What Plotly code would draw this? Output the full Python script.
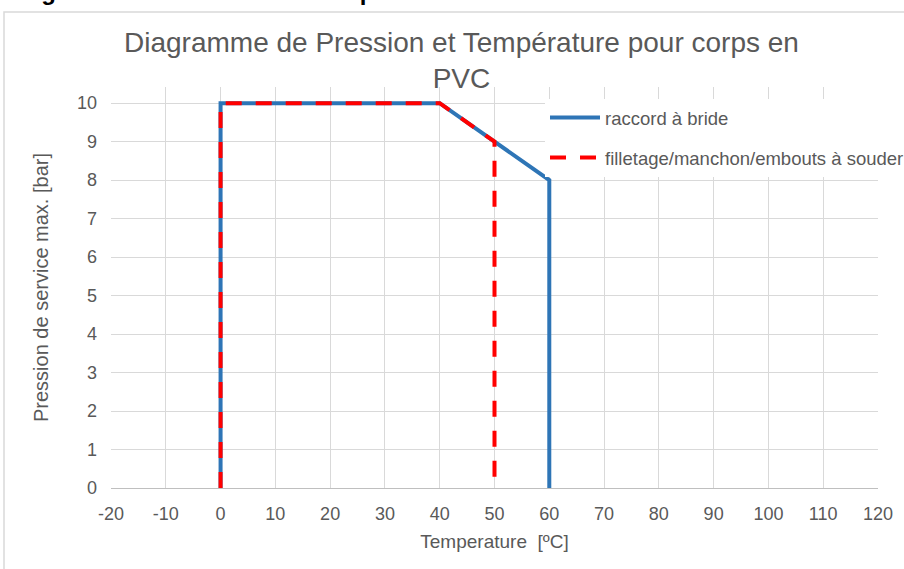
import plotly.graph_objects as go

# Data
bride_temp = [0, 0, 40, 60, 60]
bride_press = [0, 10, 10, 8, 0]
filet_temp = [0, 0, 40, 50, 50]
filet_press = [0, 10, 10, 9, 0]
x_ticks = list(range(-20, 121, 10))
x_labels = [str(v) for v in x_ticks]
y_ticks = list(range(0, 11))

W, H = 904, 569
L, R, T, B = 111, 26, 87, 81
pw, ph = W - L - R, H - T - B

def px2x(p):
    return (p - L) / pw

def px2y(p):
    return (H - B - p) / ph

FONT = "Liberation Sans, Arial, sans-serif"
GRAY = "#595959"

fig = go.Figure()
fig.add_trace(go.Scatter(x=bride_temp, y=bride_press, mode="lines",
                         name="raccord à bride", legendgroup="a",
                         line=dict(color="#2E75B6", width=4)))
fig.add_trace(go.Scatter(x=filet_temp, y=filet_press, mode="lines",
                         name="filletage/manchon/embouts à souder", legendgroup="b",
                         line=dict(color="#FF0000", width=4, dash="16px,14px")))

fig.update_layout(
    width=W, height=H,
    margin=dict(l=L, r=R, t=T, b=B, autoexpand=False),
    paper_bgcolor="white", plot_bgcolor="white",
    font=dict(family=FONT, color=GRAY, size=18),
    xaxis=dict(range=[-20, 120], tickvals=x_ticks, ticktext=x_labels, showgrid=True,
               gridcolor="#d9d9d9", gridwidth=1, zeroline=False,
               showline=True, linecolor="#bfbfbf", linewidth=1,
               ticks="", ticklabelstandoff=9, tickfont=dict(size=18, color=GRAY),
               title=dict(text="Temperature  [ºC]", font=dict(size=19, color=GRAY), standoff=12)),
    yaxis=dict(range=[0, 10.42], tickvals=y_ticks, showgrid=True,
               gridcolor="#d9d9d9", gridwidth=1, zeroline=False,
               showline=False, ticks="", ticklabelstandoff=13,
               tickfont=dict(size=18, color=GRAY),
               title=dict(text="Pression de service max. [bar]", font=dict(size=20, color=GRAY), standoff=22)),
    legend=dict(x=px2x(545), y=px2y(99), xanchor="left", yanchor="top",
                bgcolor="white", font=dict(size=18.5, color=GRAY),
                traceorder="grouped", tracegroupgap=13, itemwidth=50),
    showlegend=True,
)

fig.add_annotation(text="Diagramme de Pression et Température pour corps en<br>PVC",
                   xref="paper", yref="paper", x=px2x(461), y=px2y(60),
                   xanchor="center", yanchor="middle", showarrow=False,
                   font=dict(size=28, color=GRAY, family=FONT))

fig.add_shape(type="rect", xref="paper", yref="paper",
              x0=px2x(4), x1=px2x(910), y0=px2y(12), y1=px2y(575),
              line=dict(color="#d9d9d9", width=1.5), fillcolor="rgba(0,0,0,0)", layer="below")

fig.add_annotation(text="<b>Diagramme de Pression et Température</b>", xref="paper", yref="paper",
                   x=px2x(2), y=px2y(7), xanchor="left", yanchor="bottom", showarrow=False,
                   font=dict(size=24, color="black", family=FONT))

fig.write_html("out.html", config={"displayModeBar": False},
               post_script="document.body.style.margin='0';document.body.style.overflow='hidden';")
